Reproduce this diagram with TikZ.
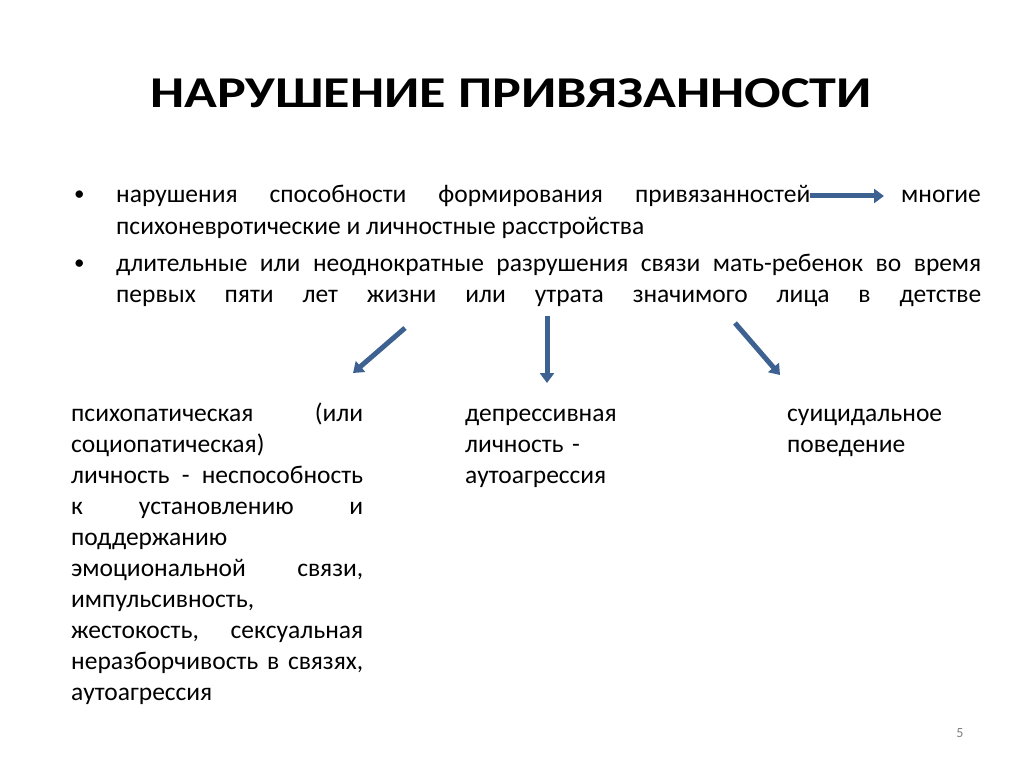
\documentclass[tikz,border=0pt]{standalone}
\usepackage{graphicx}
\usepackage{fontspec}
\setmainfont{Carlito}
\usetikzlibrary{arrows.meta, positioning}

\definecolor{arrowblue}{HTML}{3D6191}
\tikzset{
  body/.style={inner sep=0pt, anchor=base west, align=left, font=\fontsize{25.5}{31}\selectfont},
  dot/.style={inner sep=0pt, anchor=base west, font=\fontsize{21}{31}\selectfont},
  link/.style={draw=arrowblue, line width=5pt, -{Triangle[length=10pt,width=14pt]}},
}
% one justified line of a given width
\newcommand{\jline}[2]{\leavevmode\hbox to #1{\spaceskip=0pt\xspaceskip=0pt #2}}

\begin{document}
\begin{tikzpicture}[x=1pt, y=1pt]
    \useasboundingbox (0,0) rectangle (1024,-767);

    % Title
    \node[inner sep=0pt, anchor=base, font=\fontsize{44}{50}\selectfont\bfseries] (title) at (511,-108) {\scalebox{1.23}[1]{НАРУШЕНИЕ ПРИВЯЗАННОСТИ}};

    % First bullet
    \node[dot] (dot1) at (74,-201) {•};
    \node[body] (p1a) at (116,-203) {\jline{694pt}{нарушения способности формирования привязанностей}};
    \node[body, anchor=base east] (p1b) at (981,-203) {многие};
    \node[body] (p1c) at (116,-234) {психоневротические и личностные расстройства};
    \draw[link] ([yshift=7pt]p1a.base east) -- ([xshift=-17pt, yshift=7pt]p1b.base west);

    % Second bullet
    \node[dot] (dot2) at (74,-269) {•};
    \node[body, text width=865pt] (p2) at (116,-271) {\jline{865pt}{длительные или неоднократные разрушения связи мать-ребенок во время}\\
      \jline{865pt}{первых пяти лет жизни или утрата значимого лица в детстве}};

    % Three outcomes
    \node[body, text width=292pt] (c1) at (71,-421) {\jline{292pt}{психопатическая (или}\\
      социопатическая)\\
      \jline{292pt}{личность - неспособность}\\
      \jline{292pt}{к установлению и}\\
      поддержанию\\
      \jline{292pt}{эмоциональной связи,}\\
      импульсивность,\\
      \jline{292pt}{жестокость, сексуальная}\\
      \jline{292pt}{неразборчивость в связях,}\\
      аутоагрессия};
    \node[body, text width=170pt] (c2) at (465,-421) {депрессивная\\ личность -\\ аутоагрессия};
    \node[body, text width=200pt] (c3) at (787,-421) {суицидальное\\ поведение};

    % Arrows to the outcomes
    \coordinate (s1) at (405,-328);
    \coordinate (e1) at (353,-373);
    \coordinate (s2) at (547,-316);
    \coordinate (e2) at (547,-383);
    \coordinate (s3) at (735,-323);
    \coordinate (e3) at (780,-375);
    \draw[link] (s1) -- (e1);
    \draw[link] (s2) -- (e2);
    \draw[link] (s3) -- (e3);

    % Page number
    \node[inner sep=0pt, text=gray, font=\fontsize{14}{16}\selectfont] (pnum) at (960,-733) {5};

\end{tikzpicture}
\end{document}
